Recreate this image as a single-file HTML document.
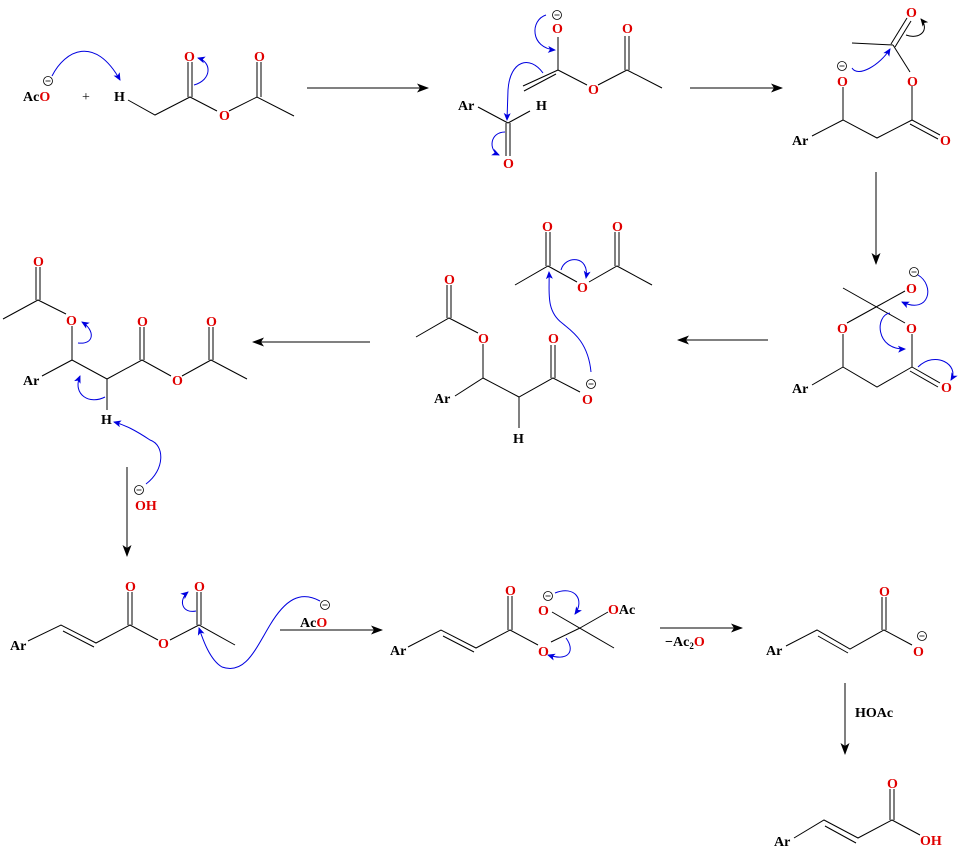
<!DOCTYPE html>
<html><head><meta charset="utf-8"><style>
html,body{margin:0;padding:0;background:#fff;}
svg{display:block}
text{font-family:"Liberation Serif","Times New Roman",serif;font-weight:bold;font-size:14px;}
.o{fill:#e00000}
.k{fill:#000}
.b{stroke:#000;stroke-width:1;fill:none}
.bl{stroke:#0000e0;stroke-width:1;fill:none}
</style></head><body>
<svg width="960" height="850" viewBox="0 0 960 850" xmlns="http://www.w3.org/2000/svg">
<defs>
<marker id="ah" markerWidth="12" markerHeight="9" refX="11" refY="4.5" orient="auto" markerUnits="userSpaceOnUse"><path d="M0,0 L12,4.5 L0,9 L3,4.5 Z" fill="#000"/></marker>
<marker id="bh" markerWidth="8" markerHeight="7" refX="7" refY="3.5" orient="auto" markerUnits="userSpaceOnUse"><path d="M0,0 L8,3.5 L0,7 L2,3.5 Z" fill="#0000e0"/></marker>
<marker id="kh" markerWidth="8" markerHeight="7" refX="7" refY="3.5" orient="auto" markerUnits="userSpaceOnUse"><path d="M0,0 L8,3.5 L0,7 L2,3.5 Z" fill="#000"/></marker>
<g id="m"><circle cx="0" cy="0" r="4.5" fill="#fff" stroke="#000" stroke-width="0.8"/><line x1="-2.5" y1="0" x2="2.5" y2="0" stroke="#000" stroke-width="0.8"/></g>
</defs>

<g class="b">
<line x1="307" y1="88" x2="428" y2="88" marker-end="url(#ah)"/>
<line x1="690" y1="88" x2="782" y2="88" marker-end="url(#ah)"/>
<line x1="876" y1="172" x2="876" y2="264" marker-end="url(#ah)"/>
<line x1="768" y1="340" x2="678" y2="340" marker-end="url(#ah)"/>
<line x1="370" y1="342" x2="253" y2="342" marker-end="url(#ah)"/>
<line x1="127" y1="467" x2="127" y2="556" marker-end="url(#ah)"/>
<line x1="280" y1="630" x2="382" y2="630" marker-end="url(#ah)"/>
<line x1="660" y1="628" x2="742" y2="628" marker-end="url(#ah)"/>
<line x1="845" y1="683" x2="845" y2="754" marker-end="url(#ah)"/>
</g>

<!-- Structure 1 -->
<text x="23" y="101" class="k">Ac<tspan class="o">O</tspan></text>
<use href="#m" x="48" y="81"/>
<text x="82" y="101" class="k" style="font-weight:normal">+</text>
<text x="114" y="101" class="k">H</text>
<g class="b">
<polyline points="128,100 155,115 190,97 217,111"/>
<polyline points="229,111 257,97 294,116"/>
<line x1="188" y1="97" x2="188" y2="62"/><line x1="192" y1="97" x2="192" y2="62"/>
<line x1="257" y1="97" x2="257" y2="62"/><line x1="261" y1="97" x2="261" y2="62"/>
</g>
<text x="184" y="61" class="o">O</text>
<text x="219" y="120" class="o">O</text>
<text x="254" y="61" class="o">O</text>
<path class="bl" d="M52,76 C65,50 95,35 120,80" marker-end="url(#bh)"/>
<path class="bl" d="M194,85 C212,80 212,62 198,58" marker-end="url(#bh)"/>

<!-- Structure 2 -->
<use href="#m" x="557" y="15"/>
<text x="552" y="33" class="o">O</text>
<g class="b">
<line x1="558" y1="37" x2="558" y2="70"/>
<line x1="558" y1="70" x2="523" y2="86"/><line x1="556" y1="74" x2="524" y2="91"/>
<line x1="558" y1="70" x2="587" y2="85"/>
<polyline points="598,85 627,70 662,88"/>
<line x1="625" y1="70" x2="625" y2="36"/><line x1="629" y1="70" x2="629" y2="36"/>
<line x1="478" y1="107" x2="508" y2="123"/>
<line x1="508" y1="123" x2="530" y2="111"/>
<line x1="506" y1="123" x2="506" y2="156"/><line x1="510" y1="123" x2="510" y2="156"/>
</g>
<text x="588" y="94" class="o">O</text>
<text x="622" y="33" class="o">O</text>
<text x="458" y="110" class="k">Ar</text>
<text x="536" y="110" class="k">H</text>
<text x="503" y="168" class="o">O</text>
<path class="bl" d="M546,15 C530,20 530,48 555,50" marker-end="url(#bh)"/>
<path class="bl" d="M543,73 C530,55 510,60 508,90 L507,120" marker-end="url(#bh)"/>
<path class="bl" d="M505,132 C490,132 488,150 499,155" marker-end="url(#bh)"/>

<!-- Structure 3 -->
<g class="b">
<line x1="852" y1="43" x2="893" y2="45"/>
<line x1="891" y1="44" x2="907" y2="18"/><line x1="895" y1="47" x2="911" y2="21"/>
<line x1="893" y1="45" x2="910" y2="72"/>
<line x1="912" y1="86" x2="912" y2="120"/>
<line x1="912" y1="120" x2="940" y2="135"/><line x1="910" y1="124" x2="938" y2="139"/>
<polyline points="912,120 877,138 843,120 843,87"/>
<line x1="812" y1="136" x2="843" y2="120"/>
</g>
<text x="906" y="17" class="o">O</text>
<text x="907" y="86" class="o">O</text>
<text x="940" y="145" class="o">O</text>
<text x="837" y="86" class="o">O</text>
<use href="#m" x="842" y="66"/>
<text x="792" y="145" class="k">Ar</text>
<path class="b" d="M906,35 C920,40 930,30 921,19" marker-end="url(#kh)"/>
<path class="bl" d="M852,68 C858,78 880,65 890,49" marker-end="url(#bh)"/>

<!-- Structure 4 -->
<use href="#m" x="914" y="272"/>
<text x="906" y="293" class="o">O</text>
<g class="b">
<line x1="843" y1="288" x2="905" y2="323"/>
<line x1="876" y1="307" x2="905" y2="291"/>
<line x1="876" y1="307" x2="847" y2="323"/>
<line x1="912" y1="334" x2="912" y2="367"/>
<line x1="912" y1="367" x2="940" y2="383"/><line x1="910" y1="371" x2="938" y2="387"/>
<polyline points="912,367 877,387 843,367 843,334"/>
<line x1="812" y1="385" x2="843" y2="367"/>
</g>
<text x="837" y="333" class="o">O</text>
<text x="906" y="333" class="o">O</text>
<text x="941" y="392" class="o">O</text>
<text x="792" y="393" class="k">Ar</text>
<path class="bl" d="M918,275 C935,285 930,315 902,302" marker-end="url(#bh)"/>
<path class="bl" d="M890,313 C875,315 875,350 905,349" marker-end="url(#bh)"/>
<path class="bl" d="M918,367 C935,350 960,365 951,380" marker-end="url(#bh)"/>

<!-- Structure 5 -->
<g class="b">
<polyline points="515,285 548,266 577,282"/>
<polyline points="589,282 617,266 652,285"/>
<line x1="546" y1="266" x2="546" y2="232"/><line x1="550" y1="266" x2="550" y2="232"/>
<line x1="615" y1="266" x2="615" y2="232"/><line x1="619" y1="266" x2="619" y2="232"/>
<polyline points="416,337 449,318 478,333"/>
<line x1="447" y1="318" x2="447" y2="285"/><line x1="451" y1="318" x2="451" y2="285"/>
<line x1="483" y1="344" x2="483" y2="378"/>
<line x1="455" y1="396" x2="483" y2="378"/>
<polyline points="483,378 519,397 553,378 580,392"/>
<line x1="519" y1="397" x2="519" y2="428"/>
<line x1="551" y1="378" x2="551" y2="345"/><line x1="555" y1="378" x2="555" y2="345"/>
</g>
<text x="542" y="231" class="o">O</text>
<text x="577" y="292" class="o">O</text>
<text x="612" y="231" class="o">O</text>
<text x="444" y="284" class="o">O</text>
<text x="478" y="343" class="o">O</text>
<text x="548" y="343" class="o">O</text>
<text x="582" y="404" class="o">O</text>
<use href="#m" x="591" y="384"/>
<text x="434" y="403" class="k">Ar</text>
<text x="513" y="443" class="k">H</text>
<path class="bl" d="M591,372 C588,340 570,330 562,323 C545,310 550,290 549,272" marker-end="url(#bh)"/>
<path class="bl" d="M561,270 C565,255 590,255 586,278" marker-end="url(#bh)"/>

<!-- Structure 6 -->
<g class="b">
<polyline points="3,319 38,300 66,314"/>
<line x1="36" y1="300" x2="36" y2="267"/><line x1="40" y1="300" x2="40" y2="267"/>
<line x1="72" y1="326" x2="72" y2="360"/>
<line x1="42" y1="376" x2="72" y2="360"/>
<polyline points="72,360 107,379 142,360 171,376"/>
<line x1="107" y1="379" x2="107" y2="410"/>
<line x1="140" y1="360" x2="140" y2="327"/><line x1="144" y1="360" x2="144" y2="327"/>
<polyline points="182,376 211,360 247,379"/>
<line x1="209" y1="360" x2="209" y2="327"/><line x1="213" y1="360" x2="213" y2="327"/>
</g>
<text x="33" y="266" class="o">O</text>
<text x="66" y="325" class="o">O</text>
<text x="137" y="326" class="o">O</text>
<text x="172" y="385" class="o">O</text>
<text x="206" y="326" class="o">O</text>
<text x="23" y="385" class="k">Ar</text>
<text x="101" y="424" class="k">H</text>
<text x="135" y="510" class="o">OH</text>
<use href="#m" x="139" y="490"/>
<path class="bl" d="M78,343 C95,345 95,330 82,322" marker-end="url(#bh)"/>
<path class="bl" d="M105,397 C90,405 72,395 80,376" marker-end="url(#bh)"/>
<path class="bl" d="M146,484 C165,470 165,445 150,440 C135,430 125,425 114,422" marker-end="url(#bh)"/>

<!-- Structure 7 -->
<g class="b">
<polyline points="28,641 61,625 96,643 130,625 158,640"/>
<line x1="63" y1="631" x2="94" y2="647"/>
<line x1="128" y1="625" x2="128" y2="592"/><line x1="132" y1="625" x2="132" y2="592"/>
<polyline points="170,640 199,625 235,645"/>
<line x1="197" y1="625" x2="197" y2="592"/><line x1="201" y1="625" x2="201" y2="592"/>
</g>
<text x="125" y="591" class="o">O</text>
<text x="158" y="648" class="o">O</text>
<text x="194" y="591" class="o">O</text>
<text x="10" y="650" class="k">Ar</text>
<text x="300" y="627" class="k">Ac<tspan class="o">O</tspan></text>
<use href="#m" x="325" y="605"/>
<path class="bl" d="M196,611 C182,614 178,600 188,592" marker-end="url(#bh)"/>
<path class="bl" d="M320,601 C300,590 285,600 270,625 C255,650 245,675 222,667 C210,660 203,640 199,628" marker-end="url(#bh)"/>

<!-- Structure 8 -->
<g class="b">
<polyline points="408,647 441,630 476,648 510,630 538,645"/>
<line x1="443" y1="636" x2="474" y2="652"/>
<line x1="508" y1="630" x2="508" y2="596"/><line x1="512" y1="630" x2="512" y2="596"/>
<line x1="551" y1="642" x2="580" y2="628"/>
<line x1="552" y1="612" x2="614" y2="648"/>
<line x1="580" y1="628" x2="608" y2="612"/>
</g>
<text x="505" y="595" class="o">O</text>
<text x="538" y="656" class="o">O</text>
<text x="538" y="615" class="o">O</text>
<use href="#m" x="548" y="596"/>
<text x="608" y="614" class="o">O<tspan class="k">Ac</tspan></text>
<text x="390" y="655" class="k">Ar</text>
<text x="665" y="646" class="k">−Ac<tspan font-size="9" dy="3">2</tspan><tspan class="o" dy="-3">O</tspan></text>
<path class="bl" d="M555,593 C575,585 585,600 575,614" marker-end="url(#bh)"/>
<path class="bl" d="M566,638 C575,650 570,662 548,655" marker-end="url(#bh)"/>

<!-- Structure 9 -->
<g class="b">
<polyline points="786,646 817,630 850,649 884,630 912,645"/>
<line x1="818" y1="636" x2="848" y2="653"/>
<line x1="882" y1="630" x2="882" y2="597"/><line x1="886" y1="630" x2="886" y2="597"/>
</g>
<text x="879" y="596" class="o">O</text>
<text x="913" y="656" class="o">O</text>
<use href="#m" x="922" y="636"/>
<text x="766" y="655" class="k">Ar</text>
<text x="855" y="717" class="k">HOAc</text>

<!-- Structure 10 -->
<g class="b">
<polyline points="794,838 824,820 858,838 892,820 920,835"/>
<line x1="825" y1="826" x2="856" y2="843"/>
<line x1="890" y1="820" x2="890" y2="789"/><line x1="894" y1="820" x2="894" y2="789"/>
</g>
<text x="887" y="788" class="o">O</text>
<text x="920" y="845" class="o">OH</text>
<text x="774" y="846" class="k">Ar</text>
</svg>
</body></html>
